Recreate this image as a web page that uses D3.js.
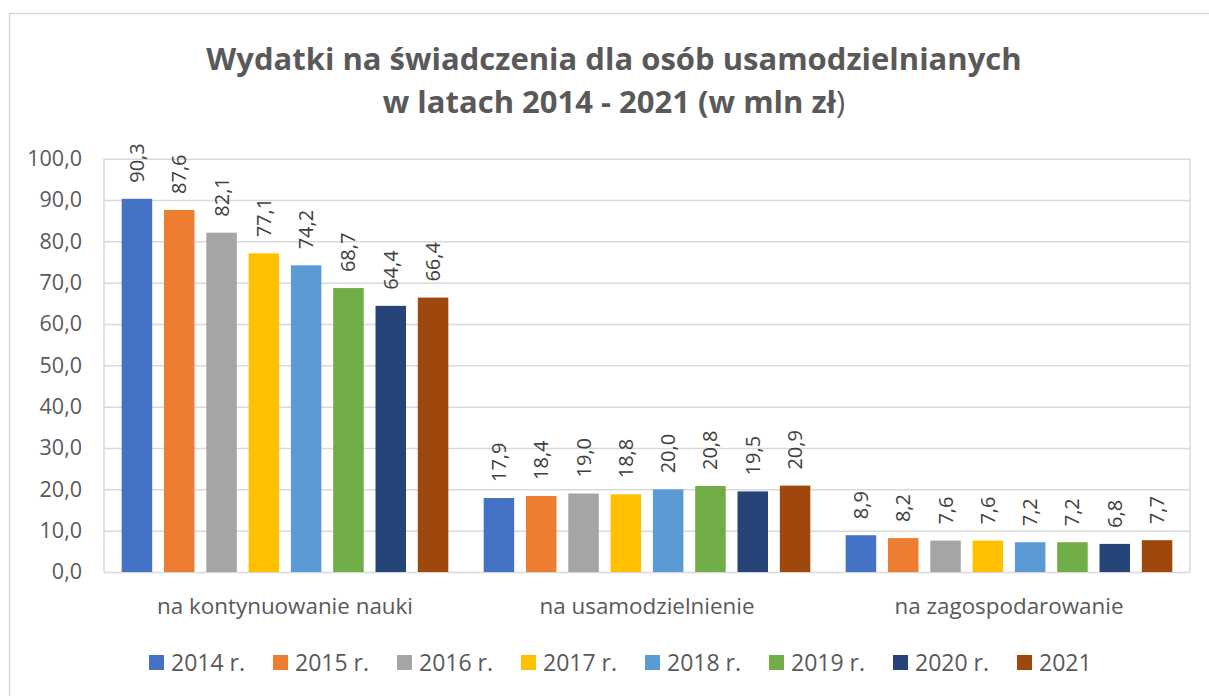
<!DOCTYPE html>
<html>
<head>
<meta charset="utf-8">
<script src="https://cdn.jsdelivr.net/npm/d3@7"></script>
<style>
  html, body { margin: 0; padding: 0; background: #fff; }
  text { font-family: "Open Sans", "DejaVu Sans", sans-serif; fill: #595959; }
</style>
</head>
<body>
<div id="chart"></div>
<script>
// chart data
const categories = ["na kontynuowanie nauki", "na usamodzielnienie", "na zagospodarowanie"];
const seriesNames = ["2014 r.", "2015 r.", "2016 r.", "2017 r.", "2018 r.", "2019 r.", "2020 r.", "2021"];
const seriesColors = ["#4472C4", "#ED7D31", "#A5A5A5", "#FFC000", "#5B9BD5", "#70AD47", "#264478", "#9E480E"];
const kontynuowanie = [90.3, 87.6, 82.1, 77.1, 74.2, 68.7, 64.4, 66.4];
const usamodzielnienie = [17.9, 18.4, 19.0, 18.8, 20.0, 20.8, 19.5, 20.9];
const zagospodarowanie = [8.9, 8.2, 7.6, 7.6, 7.2, 7.2, 6.8, 7.7];
const yTicks = [0, 10, 20, 30, 40, 50, 60, 70, 80, 90, 100];
// the closing bracket of the title is not bold in the original
const titleLines = [["Wydatki na świadczenia dla osób usamodzielnianych", ""], ["w latach 2014 - 2021 (w mln zł", ")"]];

const values = [kontynuowanie, usamodzielnienie, zagospodarowanie];

// sizes
const wide = 1209;
const high = 696;
const plot = { left: 104, right: 1190, top: 158.7, bottom: 572 };

const fmt = (v) => d3.format(".1f")(v).replace(".", ",");

const svg = d3.select("#chart")
  .append("svg")
  .attr("width", wide)
  .attr("height", high);

// outer frame
svg.append("rect")
  .attr("x", 9.5).attr("y", 13.5)
  .attr("width", wide + 10).attr("height", high + 10)
  .attr("fill", "none")
  .attr("stroke", "#d9d9d9")
  .attr("stroke-width", 1.5);

// title
const title = svg.append("g")
  .selectAll("text")
  .data(titleLines)
  .enter()
  .append("text")
  .attr("x", 614)
  .attr("y", (d, i) => 70 + i * 43)
  .attr("text-anchor", "middle")
  .style("font-size", "31px");
title.append("tspan").style("font-weight", "bold").text((d) => d[0]);
title.append("tspan").style("font-weight", "normal").text((d) => d[1]);

// scales
const x0 = d3.scaleBand()
  .domain(categories)
  .range([plot.left, plot.right])
  .paddingInner(0)
  .paddingOuter(0);

const x1 = d3.scaleBand()
  .domain(seriesNames)
  .range([0, x0.bandwidth()])
  .paddingInner(0.279)
  .paddingOuter(0.418);

const y = d3.scaleLinear()
  .domain([0, 100])
  .range([plot.bottom, plot.top]);

// gridlines + y labels
const yAxis = d3.axisLeft(y)
  .tickValues(yTicks)
  .tickSize(-(plot.right - plot.left))
  .tickPadding(22)
  .tickFormat(fmt);

const gy = svg.append("g")
  .attr("transform", `translate(${plot.left},0)`)
  .call(yAxis);
gy.select(".domain").remove();
gy.selectAll(".tick line").attr("stroke", "#d9d9d9").attr("stroke-width", 1.5);
gy.selectAll(".tick text")
  .style("font-size", "21.5px")
  .attr("fill", "#595959");

// plot frame sides
svg.append("line")
  .attr("x1", plot.left).attr("x2", plot.left)
  .attr("y1", plot.top).attr("y2", plot.bottom)
  .attr("stroke", "#d9d9d9").attr("stroke-width", 1.5);
svg.append("line")
  .attr("x1", plot.right).attr("x2", plot.right)
  .attr("y1", plot.top).attr("y2", plot.bottom)
  .attr("stroke", "#d9d9d9").attr("stroke-width", 1.5);

// bars
const groups = svg.append("g")
  .selectAll("g")
  .data(categories)
  .enter()
  .append("g")
  .attr("transform", (d) => `translate(${x0(d)},0)`);

groups.selectAll("rect")
  .data((d, i) => values[i].map((v, j) => ({ name: seriesNames[j], value: v, color: seriesColors[j] })))
  .enter()
  .append("rect")
  .attr("x", (d) => x1(d.name))
  .attr("y", (d) => y(d.value))
  .attr("width", x1.bandwidth())
  .attr("height", (d) => y(0) - y(d.value))
  .attr("fill", (d) => d.color);

// rotated value labels
groups.selectAll("text.val")
  .data((d, i) => values[i].map((v, j) => ({ name: seriesNames[j], value: v })))
  .enter()
  .append("text")
  .attr("class", "val")
  .attr("transform", (d) => `translate(${x1(d.name) + x1.bandwidth() / 2},${y(d.value) - 16}) rotate(-90)`)
  .attr("dy", "0.35em")
  .style("font-size", "20px")
  .style("fill", "#404040")
  .text((d) => fmt(d.value));

// category labels
svg.append("g")
  .selectAll("text")
  .data(categories)
  .enter()
  .append("text")
  .attr("x", (d) => x0(d) + x0.bandwidth() / 2)
  .attr("y", 614)
  .attr("text-anchor", "middle")
  .style("font-size", "22.4px")
  .text((d) => d);

// legend
const legend = svg.append("g")
  .selectAll("g")
  .data(seriesNames)
  .enter()
  .append("g")
  .attr("transform", (d, i) => `translate(${149 + i * 124},0)`);

legend.append("rect")
  .attr("x", 0).attr("y", 655)
  .attr("width", 15).attr("height", 15)
  .attr("fill", (d, i) => seriesColors[i]);

legend.append("text")
  .attr("x", 22)
  .attr("y", 670.5)
  .style("font-size", "23px")
  .text((d) => d);
</script>
</body>
</html>
